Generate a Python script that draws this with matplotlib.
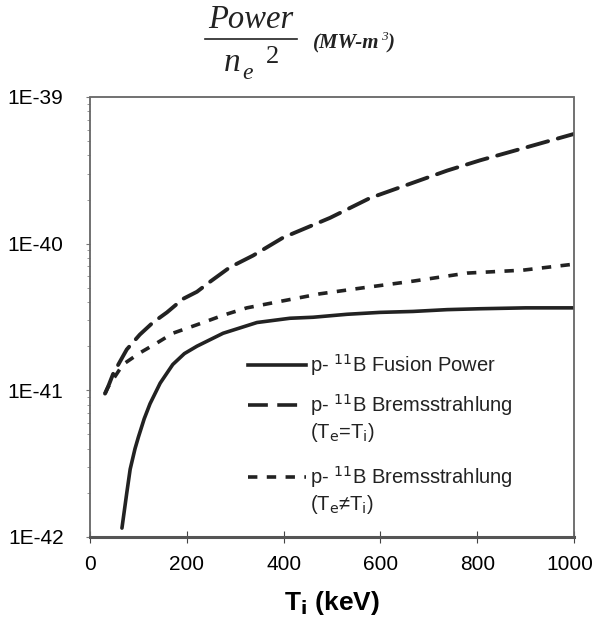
import numpy as np
import matplotlib
matplotlib.use('Agg')
from matplotlib import pyplot as plt
from matplotlib.ticker import FixedLocator, FuncFormatter, LogLocator, NullFormatter
from matplotlib.lines import Line2D
from matplotlib.transforms import ScaledTranslation

# p-11B fusion power
t_fus = [66, 76, 83, 93, 100, 112, 124, 145, 171, 195, 221, 275, 345, 413, 461, 531, 599, 667, 738, 806, 900, 1000]
p_fus = [1.15e-42, 2.0e-42, 2.9e-42, 4.0e-42, 4.8e-42, 6.4e-42, 8.1e-42, 1.12e-41, 1.5e-41, 1.78e-41, 2.0e-41,
         2.45e-41, 2.9e-41, 3.1e-41, 3.15e-41, 3.3e-41, 3.4e-41, 3.45e-41, 3.55e-41, 3.6e-41, 3.65e-41, 3.65e-41]

# bremsstrahlung, Te = Ti
t_beq = [31, 37, 48, 76, 103, 130, 159, 192, 221, 248, 289, 337, 399, 434, 496, 579, 667, 738, 806, 903, 1000]
p_beq = [9.5e-42, 1.05e-41, 1.3e-41, 1.9e-41, 2.4e-41, 2.9e-41, 3.4e-41, 4.2e-41, 4.7e-41, 5.5e-41, 6.9e-41,
         8.3e-41, 1.1e-40, 1.23e-40, 1.5e-40, 2.05e-40, 2.6e-40, 3.15e-40, 3.7e-40, 4.55e-40, 5.6e-40]

# bremsstrahlung, Te != Ti
t_bne = [31, 37, 68, 103, 138, 171, 221, 275, 324, 386, 475, 564, 667, 779, 895, 1000]
p_bne = [9.5e-42, 1.05e-41, 1.5e-41, 1.8e-41, 2.1e-41, 2.45e-41, 2.8e-41, 3.25e-41, 3.65e-41, 4.0e-41,
         4.55e-41, 5.0e-41, 5.55e-41, 6.3e-41, 6.6e-41, 7.25e-41]

x_ticks = [0, 200, 400, 600, 800, 1000]
y_ticks = [1e-42, 1e-41, 1e-40, 1e-39]
y_labels = ['1E-42', '1E-41', '1E-40', '1E-39']

plt.rcParams['font.family'] = ['Liberation Sans', 'DejaVu Sans']
ink = '#222222'

fig = plt.figure(figsize=(5.95, 6.34), dpi=100)
ax = fig.add_axes([90/595, 1-537/634, (574-90)/595, (537-97)/634])

ax.plot(t_fus, p_fus, color=ink, lw=2.6, solid_capstyle='round', solid_joinstyle='round')
ax.plot(t_beq, p_beq, color=ink, lw=2.8, dashes=(5.5, 2.6), dash_capstyle='round')
ax.plot(t_bne, p_bne, color=ink, lw=2.6, dashes=(2.6, 2.6))

ax.set_yscale('log')
ax.set_xlim(0, 1000)
ax.set_ylim(1e-42, 1e-39)

ax.xaxis.set_major_locator(FixedLocator(x_ticks))
ax.yaxis.set_major_locator(FixedLocator(y_ticks))
ax.yaxis.set_major_formatter(FuncFormatter(
    lambda v, p: y_labels[int(np.argmin([abs(np.log10(t) - np.log10(v)) for t in y_ticks]))]))
ax.yaxis.set_minor_locator(LogLocator(base=10, subs=np.arange(2, 10)))
ax.yaxis.set_minor_formatter(NullFormatter())

ax.tick_params(axis='x', direction='inout', length=8, width=0.8, color='#444444', labelsize=15, pad=9)
ax.tick_params(axis='y', which='major', direction='out', length=3, width=0.8, color='#777777', labelsize=15, pad=16)
ax.tick_params(axis='y', which='minor', direction='out', length=2, width=0.6, color='#888888')

for s in ['top', 'right', 'left']:
    ax.spines[s].set_linestyle((0, (1, 1)))
    ax.spines[s].set_color('#666666')
    ax.spines[s].set_linewidth(1.3)
ax.spines['bottom'].set_color('#555555')
ax.spines['bottom'].set_linewidth(2.2)

ax.set_xlabel(r'T$_\mathbf{i}$ (keV)', fontsize=19, fontweight='bold', labelpad=11)

fig.canvas.draw()
last = ax.get_xticklabels()[-1]
last.set_transform(last.get_transform() + ScaledTranslation(-4/100, 0, fig.dpi_scale_trans))

# legend drawn by hand
lx0, lx1, tx = 248, 306, 310
rows = [(365, None, 'p- $^{11}$B Fusion Power', None),
        (405, (5.5, 2.6), 'p- $^{11}$B Bremsstrahlung', '(T$_\\mathrm{e}$=T$_\\mathrm{i}$)'),
        (477, (2.6, 2.6), 'p- $^{11}$B Bremsstrahlung', '(T$_\\mathrm{e}$≠T$_\\mathrm{i}$)')]
for y, d, lab, sub in rows:
    fy = 1 - y/634
    ln = Line2D([lx0/595, lx1/595], [fy, fy], transform=fig.transFigure, color=ink, lw=2.6)
    if d is not None:
        ln.set_dashes(d)
    fig.add_artist(ln)
    fig.text(tx/595, fy, lab, fontsize=14.5, va='center', ha='left', color=ink)
    if sub:
        fig.text(tx/595, fy - 27/634, sub, fontsize=14.5, va='center', ha='left', color=ink)

# title: Power / n_e^2  (MW-m^3)
serif = 'Liberation Serif'
fig.text(251/595, 1-28/634, 'Power', family=serif, style='italic', fontsize=23.5, ha='center', va='baseline', color=ink)
fig.add_artist(Line2D([205/595, 297/595], [1-39/634, 1-39/634], transform=fig.transFigure, color=ink, lw=1.2))
fig.text(224/595, 1-71/634, 'n', family=serif, style='italic', fontsize=24, ha='left', va='baseline', color=ink)
fig.text(242/595, 1-79/634, 'e', family=serif, style='italic', fontsize=17, ha='left', va='baseline', color=ink)
fig.text(266/595, 1-63/634, '2', family=serif, fontsize=19, ha='left', va='baseline', color=ink)
fig.text(313/595, 1-48/634, '(MW-m', family=serif, style='italic', fontweight='bold',
         fontsize=15, ha='left', va='baseline', color=ink)
fig.text(381/595, 1-40/634, '3', family=serif, style='italic', fontsize=9.5, ha='left', va='baseline', color=ink)
fig.text(388/595, 1-48/634, ')', family=serif, style='italic', fontweight='bold',
         fontsize=15, ha='left', va='baseline', color=ink)

plt.savefig('out.png', dpi=100)
